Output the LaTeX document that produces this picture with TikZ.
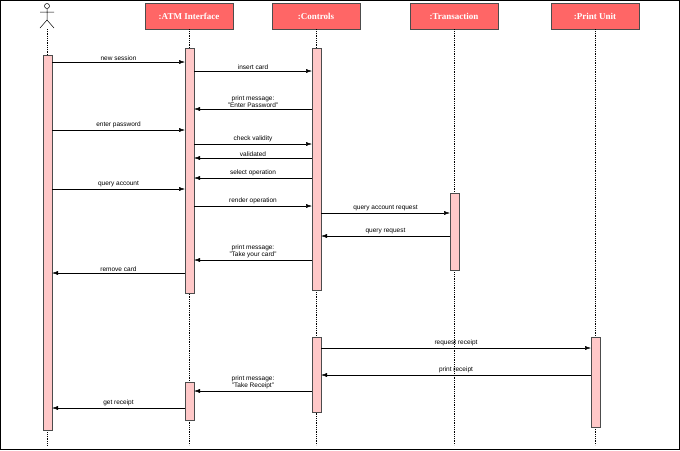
\documentclass[tikz,border=0pt]{standalone}
\usepackage{fontspec}
\setmainfont{Liberation Serif}
\setsansfont{Liberation Sans}
\usetikzlibrary{arrows.meta}
\definecolor{hdr}{HTML}{FF6666}
\definecolor{act}{HTML}{FFC8C8}
\begin{document}
\begin{tikzpicture}[x=1pt,y=-1pt,
  hdr/.style={draw=black!70,fill=hdr,minimum width=88pt,minimum height=26pt,inner sep=0pt,font=\bfseries\fontsize{9}{10}\selectfont,text=white},
  bar/.style={draw=black!70,fill=act,line width=0.6pt},
  life/.style={densely dotted,line width=0.8pt},
  msg/.style={-{Latex[length=6pt,width=4pt]},line width=0.5pt},
  lbl/.style={font=\sffamily\fontsize{6.5}{7}\selectfont,align=center,inner sep=1.5pt,above}]
\draw[line width=1pt] (0.5,0.5) rectangle (679.5,449.5);
\node[hdr] (atm) at (189,16) {:ATM Interface};
\node[hdr] (ctl) at (316,16) {:Controls};
\node[hdr] (trn) at (454,16) {:Transaction};
\node[hdr] (prn) at (595,16) {:Print Unit};
% actor
\node[draw,circle,minimum size=5pt,inner sep=0pt,line width=0.5pt] (head) at (47,6) {};
\draw[line width=0.5pt] (head.south) -- (47,20) (40,12) -- (54,12) (40,28) -- (47,20) -- (54,28);
\coordinate (actb) at (47,29);
% lifelines
\draw[life] (actb) -- (47,445);
\draw[life] (atm.south) -- (189,445);
\draw[life] (ctl.south) -- (316,445);
\draw[life] (trn.south) -- (454,445);
\draw[life] (prn.south) -- (595,445);
% activations
\draw[bar] (43,55) rectangle (52,430);
\draw[bar] (185,48) rectangle (194,293);
\draw[bar] (185,382) rectangle (194,420);
\draw[bar] (312,48) rectangle (321,290);
\draw[bar] (312,337) rectangle (321,412);
\draw[bar] (450,193) rectangle (459,270);
\draw[bar] (591,337) rectangle (600,427);
% messages
\draw[msg] (52,62) -- node[lbl]{new session} (185,62);
\draw[msg] (194,71) -- node[lbl]{insert card} (312,71);
\draw[msg] (312,109) -- node[lbl]{print message:\\"Enter Password"} (194,109);
\draw[msg] (52,130) -- node[lbl]{enter password} (185,130);
\draw[msg] (194,144) -- node[lbl]{check validity} (312,144);
\draw[msg] (312,158) -- node[lbl]{validated} (194,158);
\draw[msg] (312,178) -- node[lbl]{select operation} (194,178);
\draw[msg] (52,189) -- node[lbl]{query account} (185,189);
\draw[msg] (194,206) -- node[lbl]{render operation} (312,206);
\draw[msg] (321,213) -- node[lbl]{query account request} (450,213);
\draw[msg] (450,236) -- node[lbl]{query request} (321,236);
\draw[msg] (312,260) -- node[lbl]{print message:\\"Take your card"} (194,260);
\draw[msg] (185,273) -- node[lbl]{remove card} (52,273);
\draw[msg] (321,348) -- node[lbl]{request receipt} (591,348);
\draw[msg] (591,375) -- node[lbl]{print receipt} (321,375);
\draw[msg] (312,391) -- node[lbl]{print message:\\"Take Receipt"} (194,391);
\draw[msg] (185,408) -- node[lbl]{get receipt} (52,408);
\end{tikzpicture}
\end{document}
